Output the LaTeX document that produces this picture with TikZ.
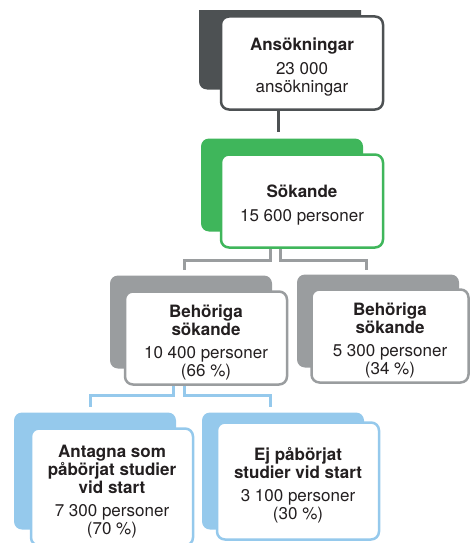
\documentclass[tikz,border=0pt]{standalone}
\usepackage{fontspec}
\setmainfont{TeX Gyre Heros}
\usetikzlibrary{positioning}
\definecolor{inkgray}{HTML}{231F20}
\definecolor{slate}{HTML}{4D5153}
\definecolor{leafgreen}{HTML}{3FB65B}
\definecolor{stonegray}{HTML}{9A9D9F}
\definecolor{skyblue}{HTML}{95C9EC}
\newcommand{\headroom}{\rule{0pt}{21.5pt}}

\begin{document}
\begin{tikzpicture}[x=1pt, y=-1pt,
    box/.style={draw=#1, fill=white, line width=2.5pt, rounded corners=8pt,
                minimum width=162pt, minimum height=93pt, inner sep=0pt,
                align=center, text=inkgray},
    backbox/.style={draw=none, fill=#1, rounded corners=8pt,
                minimum width=162pt, minimum height=93pt},
    link/.style={draw=#1, line width=3pt},
    font=\fontsize{17}{18}\selectfont,
]
  \useasboundingbox (0,0) rectangle (470,543);
  \clip (0,11) rectangle (470,543);

  % back panels
  \node[backbox=slate]     (ansbg)  at (280,43)  {};
  \node[backbox=leafgreen] (sokbg)  at (282,185) {};
  \node[backbox=stonegray] (behbg)  at (191,322) {};
  \node[backbox=stonegray] (obehbg) at (378,321) {};
  \node[backbox=skyblue, minimum height=117pt] (antbg) at (95,471)  {};
  \node[backbox=skyblue, minimum height=117pt] (ejpbg) at (283,471) {};

  % front boxes
  \node[box=slate] (ans) at (302,63)
    {\headroom\textbf{Ansökningar}\\[6pt]23 000\\ansökningar};
  \node[box=leafgreen] (sok) at (302,201)
    {\headroom\textbf{Sökande}\\[6pt]15 600 personer};
  \node[box=stonegray] (beh) at (206,338)
    {\headroom\textbf{Behöriga}\\\textbf{sökande}\\[5pt]10 400 personer\\(66 \%)};
  \node[box=stonegray, minimum width=157pt] (obeh) at (390,336)
    {\headroom\textbf{Behöriga}\\\textbf{sökande}\\[5pt]5 300 personer\\(34 \%)};
  \node[box=skyblue, minimum height=117pt] (ant) at (112,487)
    {\headroom\textbf{Antagna som}\\\textbf{påbörjat studier}\\\textbf{vid start}\\[5pt]7 300 personer\\(70 \%)};
  \node[box=skyblue, minimum height=117pt] (ejp) at (298,481)
    {\headroom\textbf{Ej påbörjat}\\\textbf{studier vid start}\\[5pt]3 100 personer\\(30 \%)};

  % connectors
  \coordinate (ansend)   at (278,132);
  \coordinate (sokstemL) at (270,260);
  \coordinate (sokstemR) at (280,260);
  \coordinate (behtop)   at (184,270);
  \coordinate (obehtop)  at (366,270);
  \coordinate (behstemL) at (173,395);
  \coordinate (behstemR) at (184,395);
  \coordinate (anttop)   at (90,407);
  \coordinate (ejptop)   at (270,407);

  \draw[link=slate] (ans.south -| ansend) -- (ansend);
  \draw[link=stonegray] (sok.south -| sokstemL) -- (sokstemL) -| (behtop);
  \draw[link=stonegray] (sok.south -| sokstemR) -- (sokstemR) -| (obehtop);
  \draw[link=skyblue] (beh.south -| behstemL) -- (behstemL) -| (anttop);
  \draw[link=skyblue] (beh.south -| behstemR) -- (behstemR) -| (ejptop);
\end{tikzpicture}
\end{document}
